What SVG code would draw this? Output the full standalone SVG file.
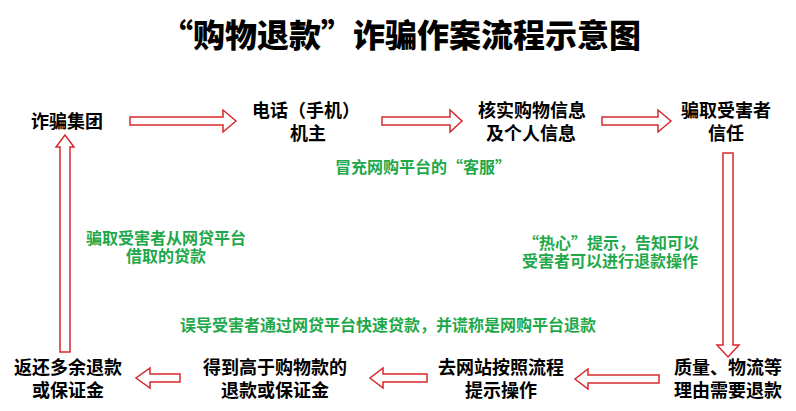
<svg xmlns="http://www.w3.org/2000/svg" width="796" height="411" viewBox="0 0 796 411">
<style>
.title{font-family:"Noto Sans CJK SC","Liberation Sans",sans-serif;font-size:32px;font-weight:900;fill:#000;text-anchor:middle}
.node{font-family:"Noto Sans CJK SC","Liberation Sans",sans-serif;font-size:18px;font-weight:bold;fill:#000;text-anchor:middle}
.lbl{font-family:"Noto Sans CJK SC","Liberation Sans",sans-serif;font-size:16px;font-weight:bold;fill:#1ea84a;text-anchor:middle}
.arr{fill:#fff;stroke:#d6282c;stroke-width:1.5;stroke-linejoin:miter}
</style>
<rect width="796" height="411" fill="#fff"/>
<text class="title" x="401" y="47">“购物退款”诈骗作案流程示意图</text>
<g id="connectors">
<polygon class="arr" points="130,117 223,117 223,110 236,121 223,132 223,125 130,125"/>
<polygon class="arr" points="382,117 450,117 450,110 462,121 450,132 450,125 382,125"/>
<polygon class="arr" points="602,117 658,117 658,110 671,121 658,132 658,125 602,125"/>
<polygon class="arr" points="723,153 733,153 733,345 739,345 728,357 717,345 723,345"/>
<polygon class="arr" points="659,375 588,375 588,369 575,379 588,389 588,383 659,383"/>
<polygon class="arr" points="427,374 383,374 383,368 370,378 383,388 383,382 427,382"/>
<polygon class="arr" points="180,374 150,374 150,368 136,378 150,388 150,382 180,382"/>
<polygon class="arr" points="60,352 60,147 56,147 65,135 74,147 70,147 70,352"/>
</g>
<g id="n1"><text class="node" x="67" y="128">诈骗集团</text></g>
<g id="n2"><text class="node" x="306" y="117">电话（手机）<tspan x="308" dy="23">机主</tspan></text></g>
<g id="n3"><text class="node" x="532" y="117">核实购物信息<tspan x="531" dy="23">及个人信息</tspan></text></g>
<g id="n4"><text class="node" x="726" y="117">骗取受害者<tspan x="726" dy="23">信任</tspan></text></g>
<g id="n5"><text class="node" x="728" y="374">质量、物流等<tspan x="728" dy="23">理由需要退款</tspan></text></g>
<g id="n6"><text class="node" x="501" y="374">去网站按照流程<tspan x="501" dy="23">提示操作</tspan></text></g>
<g id="n7"><text class="node" x="275" y="374">得到高于购物款的<tspan x="275" dy="23">退款或保证金</tspan></text></g>
<g id="n8"><text class="node" x="68" y="374">返还多余退款<tspan x="68" dy="23">或保证金</tspan></text></g>
<g id="labels">
<text class="lbl" x="423" y="173">冒充网购平台的“客服”</text>
<text class="lbl" x="166" y="244">骗取受害者从网贷平台<tspan x="166" dy="18">借取的贷款</tspan></text>
<text class="lbl" x="611" y="249">“热心”提示，告知可以<tspan x="610" dy="18">受害者可以进行退款操作</tspan></text>
<text class="lbl" x="388" y="331">误导受害者通过网贷平台快速贷款，并谎称是网购平台退款</text>
</g>
</svg>
